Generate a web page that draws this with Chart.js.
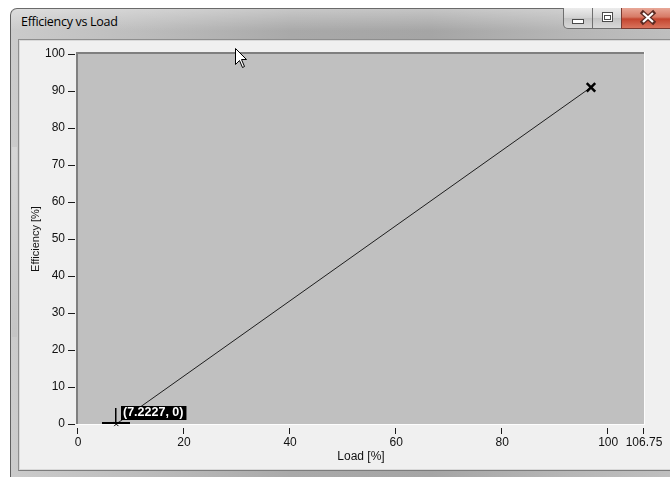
<!DOCTYPE html>
<html>
<head>
<meta charset="utf-8">
<title>Efficiency vs Load</title>
<script src="https://cdn.jsdelivr.net/npm/chart.js@4.4.1/dist/chart.umd.min.js"></script>
<style>
  body { margin:0; width:670px; height:477px; overflow:hidden; position:relative; background:#fff; font-family:"Liberation Sans", Arial, sans-serif; }
  .win { position:absolute; left:10px; top:8px; width:700px; height:500px; box-sizing:border-box;
    border-top:1px solid #6a6a6a; border-left:1px solid #5e5e5e; border-radius:7px 0 0 0;
    background:linear-gradient(to bottom, rgba(255,255,255,0.35), rgba(255,255,255,0) 22px),
               linear-gradient(to right, #cbcbcb 0%, #bdbdbd 18%, #a9a9a9 40%, #a5a5a5 60%, #b6b6b6 80%, #c2c2c2 100%); }
  .shine { position:absolute; left:12px; top:147px; width:5px; height:190px; background:linear-gradient(to bottom, #d6d6d6, #c4c4c4); }
  .caption { position:absolute; left:21px; top:13px; font:12.5px "Open Sans", "Noto Sans", sans-serif; color:#000; letter-spacing:-0.3px; }
  .client { position:absolute; left:18px; top:39px; width:700px; height:432px; box-sizing:border-box; background:#f0f0f0;
    border-top:1px solid #8e8e8e; border-left:1px solid #8e8e8e; border-bottom:1px solid #7c7c7c;
    box-shadow: inset 1px 1px 0 #d9d9d9, inset 0 -1px 0 #d9d9d9; }
  .btn { position:absolute; top:8px; height:21px; box-sizing:border-box; border:1px solid #6f6f6f; border-top:none; }
  .bmin { left:563px; width:30px; border-radius:0 0 0 5px; background:linear-gradient(to bottom, #ececec, #d2d2d2 50%, #c4c4c4 51%, #d8d8d8); }
  .bmax { left:592px; width:30px; background:linear-gradient(to bottom, #ececec, #d2d2d2 50%, #c4c4c4 51%, #d8d8d8); }
  .bclose { left:621px; width:60px; background:linear-gradient(to bottom, #e8a898, #d77a66 45%, #c4452f 55%, #d9735c); border-color:#7a3a30; }
  canvas { position:absolute; left:19px; top:40px; }
  .cursor { position:absolute; left:235px; top:48px; }
</style>
</head>
<body>
<div class="win"></div>
<div class="shine"></div>
<div class="caption">Efficiency vs Load</div>
<div class="btn bmin"><svg width="28" height="20"><rect x="8.5" y="11.5" width="11" height="4" fill="#fff" stroke="#4a4a4a"/></svg></div>
<div class="btn bmax"><svg width="28" height="20"><rect x="9.5" y="4.5" width="10" height="9" fill="#fff" stroke="#4a4a4a"/><rect x="11.5" y="7.5" width="6" height="4" fill="none" stroke="#4a4a4a"/></svg></div>
<div class="btn bclose"><svg width="50" height="20"><path d="M21 5 L31 14 M31 5 L21 14" stroke="#5a2a22" stroke-width="4.5" stroke-linecap="square"/><path d="M21 5 L31 14 M31 5 L21 14" stroke="#fff" stroke-width="2.2"/></svg></div>
<div class="client"></div>
<canvas id="chart" width="651" height="429"></canvas>
<svg class="cursor" width="14" height="22"><path d="M0.5 0.5 L0.5 16.5 L4.5 12.5 L7.5 19.5 L9.5 18.5 L6.5 11.5 L11.5 11.5 Z" fill="#fff" stroke="#000"/></svg>
<script>
// measured points: load [%] vs efficiency [%]
const loadPct = [7.2227, 96.75];
const efficiencyPct = [0, 91];
const xTickValues = [0, 20, 40, 60, 80, 100, 106.75];
const yTickValues = [0, 10, 20, 30, 40, 50, 60, 70, 80, 90, 100];
const xRange = [0, 106.75];
const yRange = [0, 100];

const points = loadPct.map((x, i) => ({ x: x, y: efficiencyPct[i] }));

// grey plot box with sunken edge
const plotFrame = {
  id: 'plotFrame',
  beforeDatasetsDraw(chart) {
    const { ctx, chartArea: a } = chart;
    ctx.save();
    ctx.fillStyle = '#c0c0c0';
    ctx.fillRect(a.left, a.top, a.right - a.left, a.bottom - a.top);
    ctx.fillStyle = '#7f7f7f';
    ctx.fillRect(a.left - 2, a.top - 2, a.right - a.left + 2, 2);
    ctx.fillRect(a.left - 2, a.top - 2, 2, a.bottom - a.top + 2);
    ctx.fillStyle = '#fdfdfd';
    ctx.fillRect(a.right, a.top - 2, 1, a.bottom - a.top + 3);
    ctx.fillRect(a.left - 2, a.bottom, a.right - a.left + 3, 1);
    ctx.restore();
  }
};

// small tick dashes outside the plot box
const tickMarks = {
  id: 'tickMarks',
  afterDraw(chart) {
    const { ctx, chartArea: a, scales } = chart;
    ctx.save();
    ctx.strokeStyle = '#1a1a1a';
    ctx.lineWidth = 1;
    ctx.beginPath();
    scales.y.ticks.forEach(t => {
      const py = Math.round(scales.y.getPixelForValue(t.value)) + 0.5;
      ctx.moveTo(a.left - 10, py);
      ctx.lineTo(a.left - 3, py);
    });
    scales.x.ticks.forEach(t => {
      const px = Math.round(scales.x.getPixelForValue(t.value)) - 0.5;
      ctx.moveTo(px, a.bottom + 4);
      ctx.lineTo(px, a.bottom + 10);
    });
    ctx.stroke();
    ctx.restore();
  }
};

// cursor crosshair + value label on the first point
const cursorLabel = {
  id: 'cursorLabel',
  afterDatasetsDraw(chart) {
    const { ctx, scales } = chart;
    const px = Math.round(scales.x.getPixelForValue(loadPct[0]));
    const py = Math.round(scales.y.getPixelForValue(efficiencyPct[0]));
    ctx.save();
    ctx.fillStyle = '#000';
    ctx.fillRect(px - 14, py - 2, 28, 2);
    ctx.fillRect(px - 1, py - 16, 1.5, 15);
    const text = '(' + loadPct[0] + ', ' + efficiencyPct[0] + ')';
    ctx.font = 'bold 12.5px "Liberation Sans", Arial, sans-serif';
    const w = ctx.measureText(text).width;
    ctx.fillRect(px + 5, py - 18, w + 5, 14);
    ctx.fillStyle = '#fff';
    ctx.textBaseline = 'middle';
    ctx.fillText(text, px + 7, py - 11);
    ctx.restore();
  }
};

function noPad(s) {
  s.paddingTop = 0; s.paddingBottom = 0; s.paddingLeft = 0; s.paddingRight = 0;
}

new Chart(document.getElementById('chart'), {
  type: 'scatter',
  data: {
    datasets: [{
      label: 'Efficiency',
      data: points,
      showLine: true,
      borderColor: '#1e1e1e',
      borderWidth: 1,
      pointStyle: 'crossRot',
      pointRadius: [3, 6],
      pointBorderWidth: [1, 2.5],
      pointBorderColor: '#000',
      clip: false
    }]
  },
  options: {
    responsive: false,
    animation: false,
    layout: { padding: { top: 14, right: 26, left: 0, bottom: 0 } },
    plugins: { legend: { display: false }, tooltip: { enabled: false } },
    scales: {
      x: {
        type: 'linear',
        min: xRange[0],
        max: xRange[1],
        afterBuildTicks: s => { s.ticks = xTickValues.map(v => ({ value: v })); },
        afterFit: s => { s.height = 45; noPad(s); },
        grid: { display: false, drawTicks: false },
        border: { display: false },
        ticks: { padding: 11, color: '#111', font: { family: '"Liberation Sans", Arial, sans-serif', size: 12 }, callback: v => String(v), maxRotation: 0, autoSkip: false },
        title: { display: true, text: 'Load [%]', color: '#111', padding: { top: 0, bottom: 5 }, font: { family: '"Liberation Sans", Arial, sans-serif', size: 12 } }
      },
      y: {
        min: yRange[0],
        max: yRange[1],
        afterBuildTicks: s => { s.ticks = yTickValues.map(v => ({ value: v })); },
        afterFit: s => { s.width = 59; noPad(s); },
        grid: { display: false, drawTicks: false },
        border: { display: false },
        ticks: { padding: 13, color: '#111', font: { family: '"Liberation Sans", Arial, sans-serif', size: 12 }, autoSkip: false },
        title: { display: true, text: 'Efficiency [%]', color: '#111', padding: { top: 10, bottom: 0 }, font: { family: '"Liberation Sans", Arial, sans-serif', size: 11 } }
      }
    }
  },
  plugins: [plotFrame, tickMarks, cursorLabel]
});
</script>
</body>
</html>
